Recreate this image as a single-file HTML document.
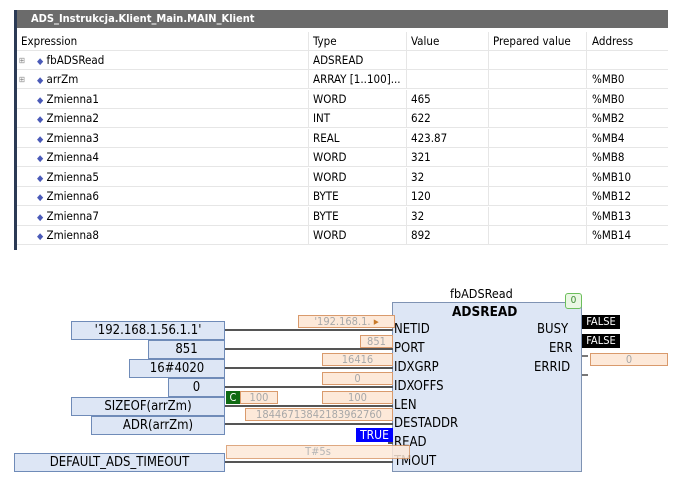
<!DOCTYPE html>
<html><head><meta charset="utf-8"><style>
*{margin:0;padding:0;box-sizing:border-box}
body{width:683px;height:483px;background:#fff;position:relative;overflow:hidden;font-family:"DejaVu Sans Condensed","Liberation Sans Narrow","Liberation Sans",sans-serif;font-size:11.5px;color:#000}
.a{position:absolute;white-space:nowrap}
.hdr{left:17px;top:10px;width:651px;height:18px;background:#6b6b6b;color:#fff;font-weight:bold;padding-left:14px;line-height:18px;font-size:11px}
.lb{left:14px;top:10px;width:3px;height:240px;background:#2b3a55}
.row{position:absolute;left:17px;width:651px;height:19px;border-bottom:1px solid #e6e6e6}
.cl{position:absolute;top:0;height:19px;border-left:1px solid #e6e6e6}
.t{position:absolute;line-height:19px}
.dot{color:#4a5ab8;font-size:9px}
.in{position:absolute;background:#dde6f5;border:1px solid #6f8bb8;text-align:center;font-size:13px;line-height:17px;height:19px}
.mo{position:absolute;background:#fde9d9;border:1px solid #d99a6c;color:#a8a8a8;text-align:center;font-size:11px;line-height:11px;height:13px}
.ln{position:absolute;height:2px;background:#555}
.pin{position:absolute;font-size:13px;line-height:14px}
</style></head><body>
<div class="a lb"></div>
<div class="a hdr">ADS_Instrukcja.Klient_Main.MAIN_Klient</div>
<div class="row" style="top:32px"><div class="t" style="left:4px">Expression</div><div class="t" style="left:296px">Type</div><div class="t" style="left:394px">Value</div><div class="t" style="left:476px">Prepared value</div><div class="t" style="left:575px">Address</div>
<div class="cl" style="left:291px"></div><div class="cl" style="left:389px"></div><div class="cl" style="left:471px"></div><div class="cl" style="left:569px"></div></div>
<div class="row" style="top:51px"><div class="t" style="left:2px;color:#888;font-size:8px">⊞</div><div class="t" style="left:20px"><span class="dot">◆</span> fbADSRead</div><div class="t" style="left:296px">ADSREAD</div><div class="cl" style="left:291px"></div><div class="cl" style="left:389px"></div><div class="cl" style="left:471px"></div><div class="cl" style="left:569px"></div></div>
<div class="row" style="top:70px"><div class="t" style="left:2px;color:#888;font-size:8px">⊞</div><div class="t" style="left:20px"><span class="dot">◆</span> arrZm</div><div class="t" style="left:296px">ARRAY [1..100]...</div><div class="t" style="left:575px">%MB0</div><div class="cl" style="left:291px"></div><div class="cl" style="left:389px"></div><div class="cl" style="left:471px"></div><div class="cl" style="left:569px"></div></div>
<div class="row" style="top:90px"><div class="t" style="left:20px"><span class="dot">◆</span> Zmienna1</div><div class="t" style="left:296px">WORD</div><div class="t" style="left:394px">465</div><div class="t" style="left:575px">%MB0</div><div class="cl" style="left:291px"></div><div class="cl" style="left:389px"></div><div class="cl" style="left:471px"></div><div class="cl" style="left:569px"></div></div>
<div class="row" style="top:109px"><div class="t" style="left:20px"><span class="dot">◆</span> Zmienna2</div><div class="t" style="left:296px">INT</div><div class="t" style="left:394px">622</div><div class="t" style="left:575px">%MB2</div><div class="cl" style="left:291px"></div><div class="cl" style="left:389px"></div><div class="cl" style="left:471px"></div><div class="cl" style="left:569px"></div></div>
<div class="row" style="top:129px"><div class="t" style="left:20px"><span class="dot">◆</span> Zmienna3</div><div class="t" style="left:296px">REAL</div><div class="t" style="left:394px">423.87</div><div class="t" style="left:575px">%MB4</div><div class="cl" style="left:291px"></div><div class="cl" style="left:389px"></div><div class="cl" style="left:471px"></div><div class="cl" style="left:569px"></div></div>
<div class="row" style="top:148px"><div class="t" style="left:20px"><span class="dot">◆</span> Zmienna4</div><div class="t" style="left:296px">WORD</div><div class="t" style="left:394px">321</div><div class="t" style="left:575px">%MB8</div><div class="cl" style="left:291px"></div><div class="cl" style="left:389px"></div><div class="cl" style="left:471px"></div><div class="cl" style="left:569px"></div></div>
<div class="row" style="top:168px"><div class="t" style="left:20px"><span class="dot">◆</span> Zmienna5</div><div class="t" style="left:296px">WORD</div><div class="t" style="left:394px">32</div><div class="t" style="left:575px">%MB10</div><div class="cl" style="left:291px"></div><div class="cl" style="left:389px"></div><div class="cl" style="left:471px"></div><div class="cl" style="left:569px"></div></div>
<div class="row" style="top:187px"><div class="t" style="left:20px"><span class="dot">◆</span> Zmienna6</div><div class="t" style="left:296px">BYTE</div><div class="t" style="left:394px">120</div><div class="t" style="left:575px">%MB12</div><div class="cl" style="left:291px"></div><div class="cl" style="left:389px"></div><div class="cl" style="left:471px"></div><div class="cl" style="left:569px"></div></div>
<div class="row" style="top:207px"><div class="t" style="left:20px"><span class="dot">◆</span> Zmienna7</div><div class="t" style="left:296px">BYTE</div><div class="t" style="left:394px">32</div><div class="t" style="left:575px">%MB13</div><div class="cl" style="left:291px"></div><div class="cl" style="left:389px"></div><div class="cl" style="left:471px"></div><div class="cl" style="left:569px"></div></div>
<div class="row" style="top:226px"><div class="t" style="left:20px"><span class="dot">◆</span> Zmienna8</div><div class="t" style="left:296px">WORD</div><div class="t" style="left:394px">892</div><div class="t" style="left:575px">%MB14</div><div class="cl" style="left:291px"></div><div class="cl" style="left:389px"></div><div class="cl" style="left:471px"></div><div class="cl" style="left:569px"></div></div>

<div class="a" style="left:392px;top:302px;width:190px;height:170px;background:#dde6f5;border:1px solid #7f93b3"></div>
<div class="a" style="left:450px;top:286px;font-size:12.5px">fbADSRead</div>
<div class="a" style="left:565px;top:293px;width:17px;height:16px;background:#eaf7e4;border:1px solid #6cbf5c;border-radius:3px;color:#3a8a30;font-size:10px;text-align:center;line-height:14px">0</div>
<div class="a" style="left:452px;top:304px;font-weight:bold;font-size:13.5px">ADSREAD</div>
<div class="pin" style="left:394px;top:323px">NETID</div>
<div class="pin" style="left:394px;top:342px">PORT</div>
<div class="pin" style="left:394px;top:361px">IDXGRP</div>
<div class="pin" style="left:394px;top:380px">IDXOFFS</div>
<div class="pin" style="left:394px;top:399px">LEN</div>
<div class="pin" style="left:394px;top:417px">DESTADDR</div>
<div class="pin" style="left:394px;top:436px">READ</div>
<div class="pin" style="left:394px;top:455px">TMOUT</div>
<div class="pin" style="left:537px;top:323px">BUSY</div>
<div class="pin" style="left:549px;top:342px">ERR</div>
<div class="pin" style="left:534px;top:361px">ERRID</div>
<div class="ln" style="left:582px;top:336px;width:6px;background:#777"></div>
<div class="ln" style="left:582px;top:355px;width:6px;background:#777"></div>
<div class="ln" style="left:582px;top:374px;width:6px;background:#777"></div>
<div class="a" style="left:582px;top:315px;width:38px;height:14px;background:#000;color:#fff;font-size:11px;line-height:14px;text-align:center">FALSE</div>
<div class="a" style="left:582px;top:334px;width:38px;height:14px;background:#000;color:#fff;font-size:11px;line-height:14px;text-align:center">FALSE</div>
<div class="mo" style="left:590px;top:353px;width:78px">0</div>

<div class="ln" style="left:225px;top:329px;width:168px"></div>
<div class="ln" style="left:225px;top:348px;width:168px"></div>
<div class="ln" style="left:225px;top:367px;width:168px"></div>
<div class="ln" style="left:225px;top:386px;width:168px"></div>
<div class="ln" style="left:225px;top:405px;width:168px"></div>
<div class="ln" style="left:225px;top:423px;width:168px"></div>
<div class="ln" style="left:388px;top:442px;width:5px"></div>
<div class="ln" style="left:225px;top:461px;width:168px"></div>

<div class="in" style="left:71px;top:321px;width:154px">'192.168.1.56.1.1'</div>
<div class="in" style="left:148px;top:340px;width:77px">851</div>
<div class="in" style="left:129px;top:359px;width:96px">16#4020</div>
<div class="in" style="left:168px;top:378px;width:57px">0</div>
<div class="in" style="left:71px;top:397px;width:154px">SIZEOF(arrZm)</div>
<div class="in" style="left:91px;top:416px;width:134px">ADR(arrZm)</div>
<div class="in" style="left:14px;top:453px;width:211px">DEFAULT_ADS_TIMEOUT</div>

<div class="mo" style="left:298px;top:315px;width:97px">'192.168.1. <span style="color:#c87a2a">▸</span></div>
<div class="mo" style="left:360px;top:335px;width:33px">851</div>
<div class="mo" style="left:322px;top:353px;width:71px">16416</div>
<div class="mo" style="left:322px;top:372px;width:71px">0</div>
<div class="mo" style="left:322px;top:391px;width:71px">100</div>
<div class="mo" style="left:245px;top:408px;width:148px">18446713842183962760</div>
<div class="a" style="left:226px;top:391px;width:14px;height:13px;background:#0f6a12;color:#fff;font-size:11px;line-height:13px;text-align:center">C</div>
<div class="mo" style="left:240px;top:391px;width:38px">100</div>
<div class="a" style="left:356px;top:428px;width:37px;height:14px;background:#0000ff;color:#fff;font-size:12px;line-height:14px;text-align:center">TRUE</div>
<div class="mo" style="left:226px;top:445px;width:184px;height:14px;opacity:.85">T#5s</div>
</body></html>
